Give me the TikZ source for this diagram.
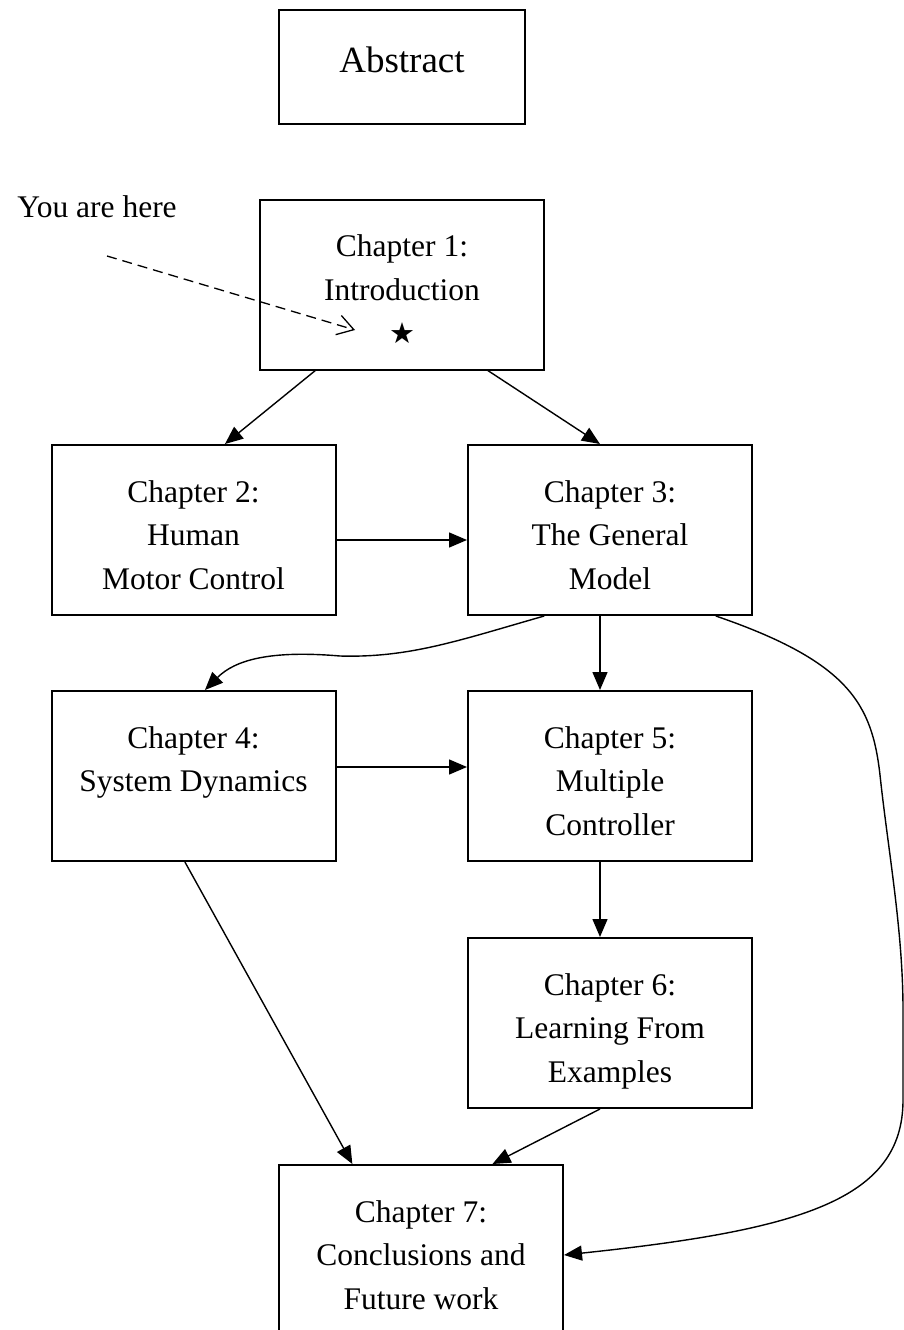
\documentclass[tikz,border=0pt]{standalone}
\usepackage{fontspec}
\setmainfont{Liberation Serif}
\newfontfamily\symfont{DejaVu Sans}
\usetikzlibrary{arrows.meta,calc}
\newcommand\tstrut{\rule{0pt}{44pt}}
\newcommand\bstrut{\rule[-13pt]{0pt}{13pt}}
\begin{document}
\begin{tikzpicture}[x=1pt,y=-1pt,
 box/.style={draw,line width=2pt,minimum width=284pt,minimum height=170pt,inner sep=0pt,align=center,font=\fontsize{31.5}{43.5}\selectfont},
 conn/.style={line width=1.4pt,-{Triangle[length=18pt,width=15pt]}},
 lbl/.style={font=\fontsize{31.5}{43.5}\selectfont,inner sep=0pt},
 dashconn/.style={line width=1.3pt,dash pattern=on 10pt off 6pt,-{Straight Barb[length=16pt,width=20pt,line width=1.3pt]}}
 ]
\useasboundingbox (0,0) rectangle (903,1330);
\node[box,minimum width=246pt,minimum height=114pt,font=\fontsize{37}{44}\selectfont] (abs) at (402,67) {Abstract\rule[-14pt]{0pt}{14pt}};
\node[box] (c1) at (402,284.5) {\tstrut Chapter 1:\\Introduction\\{\symfont\fontsize{29}{43.5}\selectfont ★}\bstrut};
\node[box] (c2) at (193.5,530) {\tstrut Chapter 2:\\Human\\Motor Control\bstrut};
\node[box] (c3) at (610,530) {\tstrut Chapter 3:\\The General\\Model\bstrut};
\node[box] (c4) at (193.5,776) {\tstrut Chapter 4:\\System Dynamics\\\bstrut};
\node[box] (c5) at (610,776) {\tstrut Chapter 5:\\Multiple\\Controller\bstrut};
\node[box] (c6) at (610,1023) {\tstrut Chapter 6:\\Learning From\\Examples\bstrut};
\node[box,minimum height=180pt] (c7) at (421,1255) {Chapter 7:\\Conclusions and\\Future work};
\node[lbl] (here) at (97,207) {You are here};
\coordinate (ds) at (107,256);
\coordinate (de) at (355,330);
\draw[dashconn] (ds) -- (de);
\draw[conn] ($(c1.south west)!0.197!(c1.south east)$) -- ($(c2.north west)!0.61!(c2.north east)$);
\draw[conn] ($(c1.south west)!0.8!(c1.south east)$) -- ($(c3.north west)!0.465!(c3.north east)$);
\draw[conn] ([yshift=-10pt]c2.east) -- ([yshift=-10pt]c2.east -| c3.west);
\draw[conn] ($(c3.south west)!0.27!(c3.south east)$) .. controls (460,640) and (410,658) .. (340,656) .. controls (270,650) and (235,660) .. ($(c4.north west)!0.54!(c4.north east)$);
\draw[conn] ($(c3.south west)!0.465!(c3.south east)$) -- ($(c5.north west)!0.465!(c5.north east)$);
\draw[conn] ([yshift=9pt]c4.east) -- ([yshift=9pt]c4.east -| c5.west);
\draw[conn] ($(c5.south west)!0.465!(c5.south east)$) -- ($(c6.north west)!0.465!(c6.north east)$);
\draw[conn] ($(c4.south west)!0.47!(c4.south east)$) -- ($(c7.north west)!0.26!(c7.north east)$);
\draw[conn] ($(c6.south west)!0.465!(c6.south east)$) -- ($(c7.north west)!0.75!(c7.north east)$);
\draw[conn] ($(c3.south west)!0.87!(c3.south east)$) .. controls (850,662) and (872,705) .. (880,775) .. controls (888,850) and (903,930) .. (903,1010) -- (903,1100) .. controls (903,1200) and (800,1230) .. (c7.east);
\end{tikzpicture}
\end{document}
